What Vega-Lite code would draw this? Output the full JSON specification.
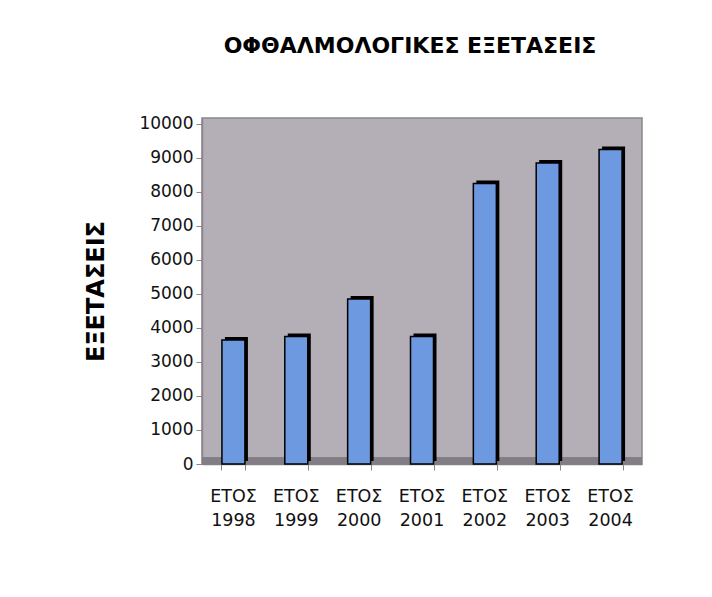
{
  "$schema": "https://vega.github.io/schema/vega-lite/v6.json",
  "autosize": "none",
  "width": 440,
  "height": 346,
  "padding": {"left": 202, "top": 118, "right": 70, "bottom": 133},
  "background": "#ffffff",
  "title": {
    "text": "ΟΦΘΑΛΜΟΛΟΓΙΚΕΣ ΕΞΕΤΑΣΕΙΣ",
    "font": "DejaVu Sans",
    "fontSize": 22,
    "fontWeight": "bold",
    "color": "#000000",
    "offset": 57,
    "dx": -12
  },
  "config": {
    "view": {"fill": "#b4aeb6", "stroke": "#8a858c", "strokeWidth": 1.5},
    "axis": {"labelFont": "DejaVu Sans", "labelFontSize": 17, "labelColor": "#111111", "domainColor": "#8a858c", "tickColor": "#8a858c", "grid": false},
    "axisY": {
      "title": "ΕΞΕΤΑΣΕΙΣ",
      "titleFont": "DejaVu Sans",
      "titleFontSize": 24,
      "titleFontWeight": "bold",
      "titleColor": "#000000",
      "titlePadding": 30,
      "labelOverlap": false,
      "tickSize": 6,
      "labelPadding": 3,
      "domainWidth": 1.5
    }
  },
  "data": {
    "values": [
      {"year": "1998", "value": 3650},
      {"year": "1999", "value": 3750},
      {"year": "2000", "value": 4850},
      {"year": "2001", "value": 3750},
      {"year": "2002", "value": 8250},
      {"year": "2003", "value": 8850},
      {"year": "2004", "value": 9250}
    ]
  },
  "resolve": {"axis": {"x": "independent"}},
  "layer": [
    {
      "mark": {"type": "rule", "color": "#837e86", "strokeWidth": 7, "yOffset": -3},
      "encoding": {
        "y": {
          "datum": 0,
          "type": "quantitative",
          "scale": {"domain": [0, 10176], "nice": false},
          "axis": {"title": "ΕΞΕΤΑΣΕΙΣ", "values": [0, 1000, 2000, 3000, 4000, 5000, 6000, 7000, 8000, 9000, 10000], "format": "d", "labelOverlap": false}
        }
      }
    },
    {
      "mark": {"type": "bar", "color": "#000000", "xOffset": 3, "yOffset": -3, "size": 23},
      "encoding": {
        "x": {
          "field": "year",
          "type": "nominal",
          "sort": null,
          "axis": {
            "orient": "bottom",
            "title": null,
            "labels": false,
            "tickBand": "extent",
            "tickSize": 6,
            "domainWidth": 1.5
          }
        },
        "y": {
          "field": "value",
          "type": "quantitative",
          "axis": {"title": "ΕΞΕΤΑΣΕΙΣ", "values": [0, 1000, 2000, 3000, 4000, 5000, 6000, 7000, 8000, 9000, 10000], "format": "d", "labelOverlap": false}
        }
      }
    },
    {
      "mark": {"type": "bar", "color": "#6d99e0", "stroke": "#000000", "strokeWidth": 1.5, "size": 23},
      "encoding": {
        "x": {
          "field": "year",
          "type": "nominal",
          "sort": null,
          "scale": {"paddingInner": 0.62, "paddingOuter": 0.31},
          "axis": {
            "orient": "bottom",
            "title": null,
            "labelAngle": 0,
            "labelExpr": "['ΕΤΟΣ', datum.value]",
            "labelFontSize": 17.5,
            "labelLineHeight": 24,
            "labelPadding": 23,
            "labelOverlap": false,
            "ticks": false,
            "domain": false
          }
        },
        "y": {
          "field": "value",
          "type": "quantitative",
          "axis": {"title": "ΕΞΕΤΑΣΕΙΣ", "values": [0, 1000, 2000, 3000, 4000, 5000, 6000, 7000, 8000, 9000, 10000], "format": "d", "labelOverlap": false}
        }
      }
    }
  ]
}
